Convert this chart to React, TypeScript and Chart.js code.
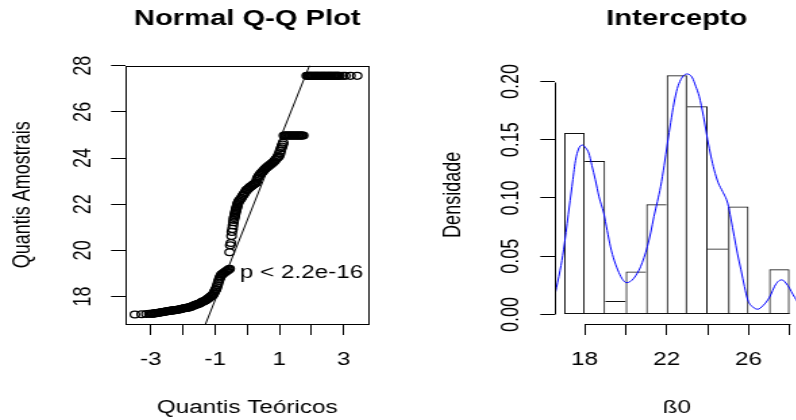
import React, { useEffect, useRef } from "react";
import { Chart, registerables } from "chart.js";

Chart.register(...registerables);

// ---------- page geometry (styles, not data) ----------
const S = 1.35; // the reference is stretched horizontally
const W = 318;
const H = 420;
const AREA = { left: 93.3, right: 273.3, top: 65.7, bottom: 324 };
const FONT = '"Liberation Sans", Arial, sans-serif';

// ---------- left panel: Normal Q-Q plot ----------
const qqTitle = "Normal Q-Q Plot";
const qqXLabel = "Quantis Teóricos";
const qqYLabel = "Quantis Amostrais";
const qqXRange = [-3.78, 3.78];
const qqYRange = [16.81, 28.0];
const qqXTicks = [-3, -2, -1, 0, 1, 2, 3];
const qqXTickLabels = ["-3", "", "-1", "", "1", "", "3"];
const qqYTicks = [18, 20, 22, 24, 26, 28];
const qqYTickLabels = ["18", "20", "22", "24", "26", "28"];

const qqTheoretical = [
  -3.5, -3.29, -3.14, -3.05, -3.0,
  -2.96, -2.93, -2.9, -2.87, -2.84, -2.81, -2.78, -2.75, -2.72, -2.69, -2.66, -2.63, -2.6, -2.57,
  -2.54, -2.51, -2.48, -2.45, -2.42, -2.39, -2.36, -2.33, -2.3, -2.27, -2.24, -2.21, -2.18, -2.15,
  -2.12, -2.09, -2.06, -2.03, -2.0, -1.97, -1.94, -1.91, -1.88, -1.85, -1.82, -1.79, -1.76, -1.73,
  -1.7, -1.67, -1.64, -1.61, -1.58, -1.55, -1.52, -1.49, -1.46, -1.43, -1.4, -1.37, -1.34, -1.31,
  -1.28, -1.25, -1.22, -1.19, -1.16, -1.13, -1.1, -1.07, -1.05, -1.03, -1.01, -0.99, -0.97, -0.95,
  -0.93, -0.91, -0.89, -0.87, -0.85, -0.83, -0.81, -0.78, -0.75, -0.72, -0.69, -0.66, -0.63, -0.6,
  -0.57, -0.55,
  -0.55, -0.53, -0.51, -0.49, -0.48, -0.46, -0.445, -0.43, -0.42, -0.41,
  -0.4, -0.39, -0.38, -0.37, -0.36, -0.35, -0.34, -0.33, -0.32, -0.31, -0.3, -0.29,
  -0.27, -0.24, -0.21, -0.18, -0.15, -0.12, -0.09, -0.06, -0.03, 0.0, 0.03, 0.06, 0.09, 0.12, 0.15,
  0.18, 0.21, 0.24, 0.27, 0.29, 0.31, 0.33, 0.36, 0.39, 0.42, 0.45, 0.48, 0.51, 0.54, 0.57, 0.6,
  0.63, 0.66, 0.69, 0.72, 0.75, 0.78, 0.81, 0.84, 0.87, 0.9, 0.93, 0.96, 0.99, 1.02, 1.04, 1.06,
  1.08, 1.1, 1.12,
  1.14, 1.17, 1.2, 1.23, 1.26, 1.29, 1.32, 1.35, 1.38, 1.41, 1.44, 1.47, 1.5, 1.53, 1.56, 1.59,
  1.62, 1.65, 1.68, 1.71, 1.74,
  1.85, 1.88, 1.91, 1.94, 1.97, 2.0, 2.03, 2.06, 2.09, 2.12, 2.15, 2.18, 2.21, 2.24, 2.27, 2.3,
  2.33, 2.36, 2.39, 2.42, 2.45, 2.48, 2.51, 2.54, 2.57, 2.6, 2.63, 2.66, 2.69, 2.72, 2.75, 2.78,
  2.81, 2.84, 2.87, 2.97, 3.05, 3.21, 3.42,
];
const qqSample = [
  17.22, 17.23, 17.245, 17.25, 17.25,
  17.255, 17.26, 17.27, 17.28, 17.28, 17.29, 17.3, 17.3, 17.31, 17.32, 17.32, 17.33, 17.34, 17.34,
  17.35, 17.36, 17.36, 17.37, 17.38, 17.38, 17.39, 17.4, 17.4, 17.41, 17.42, 17.42, 17.43, 17.44,
  17.44, 17.45, 17.46, 17.47, 17.48, 17.49, 17.5, 17.5, 17.51, 17.52, 17.53, 17.54, 17.56, 17.57,
  17.59, 17.61, 17.62, 17.64, 17.65, 17.67, 17.69, 17.7, 17.72, 17.75, 17.77, 17.79, 17.81, 17.83,
  17.85, 17.88, 17.91, 17.94, 17.98, 18.01, 18.04, 18.07, 18.12, 18.17, 18.23, 18.28, 18.33, 18.4,
  18.49, 18.58, 18.67, 18.75, 18.82, 18.88, 18.94, 18.97, 19.0, 19.03, 19.06, 19.09, 19.12, 19.15,
  19.18, 19.2,
  19.92, 20.22, 20.32, 20.62, 20.8, 20.93, 21.08, 21.22, 21.32, 21.4,
  21.46, 21.52, 21.58, 21.64, 21.7, 21.75, 21.8, 21.85, 21.9, 21.95, 22.0, 22.05,
  22.12, 22.17, 22.22, 22.28, 22.35, 22.41, 22.47, 22.53, 22.6, 22.64, 22.67, 22.71, 22.75, 22.78,
  22.81, 22.84, 22.87, 22.9, 22.93, 23.0, 23.1, 23.16, 23.22, 23.28, 23.33, 23.37, 23.42, 23.46,
  23.51, 23.55, 23.59, 23.62, 23.65, 23.69, 23.72, 23.75, 23.78, 23.82, 23.86, 23.91, 23.96, 24.01,
  24.05, 24.09, 24.2, 24.32, 24.42, 24.5, 24.58, 24.66,
  24.98, 24.98, 24.98, 24.98, 24.98, 24.98, 24.98, 24.98, 24.98, 24.98, 24.98, 24.98, 24.98, 24.98,
  24.98, 24.98, 24.98, 24.98, 24.98, 24.98, 24.98,
  27.56, 27.56, 27.56, 27.56, 27.56, 27.56, 27.56, 27.56, 27.56, 27.56, 27.56, 27.56, 27.56, 27.56,
  27.56, 27.56, 27.56, 27.56, 27.56, 27.56, 27.56, 27.56, 27.56, 27.56, 27.56, 27.56, 27.56, 27.56,
  27.56, 27.56, 27.56, 27.56, 27.56, 27.56, 27.56, 27.56, 27.56, 27.56, 27.56,
];
const qqLineIntercept = 21.31;
const qqLineSlope = 3.46;
const pValueText = "p < 2.2e-16";
const pValueAnchorX = -0.55;
const pValueAnchorY = 19.0;

// ---------- right panel: histogram + density ----------
const histTitle = "Intercepto";
const histXLabel = "ß0";
const histYLabel = "Densidade";
const histXRange = [16.56, 28.44];
const histYRange = [-0.0082, 0.2136];
const binLower = [17, 18, 19, 20, 21, 22, 23, 24, 25, 26, 27];
const binUpper = [18, 19, 20, 21, 22, 23, 24, 25, 26, 27, 28];
const binDensity = [0.1558, 0.1317, 0.0116, 0.0368, 0.0947, 0.2053, 0.1787, 0.0566, 0.0927, 0, 0.0389];
const densityX = [
  16.56, 16.8, 16.97, 17.2, 17.38, 17.55, 17.7, 17.87, 18.05, 18.2, 18.35, 18.52, 18.7, 18.93,
  19.1, 19.26, 19.45, 19.67, 19.85, 20.04, 20.22, 20.4, 20.57, 20.73, 20.9, 21.06, 21.22, 21.38,
  21.55, 21.71, 21.88, 22.04, 22.2, 22.36, 22.52, 22.69, 22.85, 23.0, 23.13, 23.26, 23.42, 23.59,
  23.8, 24.0, 24.16, 24.32, 24.52, 24.73, 24.98, 25.14, 25.3, 25.46, 25.63, 25.8, 25.96, 26.2,
  26.45, 26.7, 26.94, 27.1, 27.26, 27.45, 27.63, 27.82, 28.0, 28.17, 28.33, 28.44,
];
const densityY = [
  0.018, 0.038, 0.0555, 0.086, 0.11, 0.132, 0.142, 0.1455, 0.143, 0.1386, 0.128, 0.1157, 0.101,
  0.087, 0.072, 0.058, 0.046, 0.036, 0.03, 0.0273, 0.0282, 0.0311, 0.0355, 0.041, 0.049, 0.0583,
  0.07, 0.0841, 0.097, 0.11, 0.128, 0.147, 0.165, 0.1816, 0.194, 0.2016, 0.2055, 0.2065, 0.2058,
  0.2031, 0.196, 0.1873, 0.17, 0.15, 0.136, 0.1242, 0.113, 0.1056, 0.0956, 0.082, 0.0669, 0.052,
  0.0383, 0.024, 0.0125, 0.0065, 0.0045, 0.0075, 0.0125, 0.0175, 0.0239, 0.0285, 0.0297, 0.027,
  0.0225, 0.017, 0.0125, 0.0095,
];
const histXTicks = [18, 20, 22, 24, 26, 28];
const histXTickLabels = ["18", "", "22", "", "26", ""];
const histYTicks = [0, 0.05, 0.1, 0.15, 0.2];
const histYTickLabels = ["0.00", "0.05", "0.10", "0.15", "0.20"];

// ---------- helpers ----------
function gridOpts() {
  return {
    display: true,
    offset: false,
    drawOnChartArea: false,
    drawTicks: true,
    tickLength: 11,
    tickWidth: 1,
    tickColor: "#000",
    color: "#000",
    lineWidth: 1,
  };
}

function xScale(range: number[], ticks: number[], labels: string[], title: string) {
  return {
    type: "linear",
    position: "bottom",
    min: range[0],
    max: range[1],
    offset: false,
    afterBuildTicks: (s: any) => {
      s.ticks = ticks.map((v) => ({ value: v }));
    },
    afterFit: (s: any) => {
      s.height = H - AREA.bottom;
    },
    ticks: {
      autoSkip: false,
      minRotation: 0,
      maxRotation: 0,
      padding: 14.7,
      color: "#000",
      font: { size: 18, family: FONT },
      callback: (v: number) => labels[ticks.indexOf(v)] ?? "",
    },
    grid: gridOpts(),
    border: { display: false },
    title: {
      display: true,
      text: title,
      color: "#000",
      font: { size: 18, family: FONT },
      padding: { top: 0, bottom: 1.4 },
    },
  };
}

function yScale(range: number[], ticks: number[], labels: string[], title: string, pad: number, titlePad: number) {
  return {
    type: "linear",
    position: "left",
    min: range[0],
    max: range[1],
    beginAtZero: false,
    afterBuildTicks: (s: any) => {
      s.ticks = ticks.map((v) => ({ value: v }));
    },
    afterFit: (s: any) => {
      s.width = AREA.left;
    },
    ticks: {
      autoSkip: false,
      minRotation: 90,
      maxRotation: 90,
      crossAlign: "center",
      padding: pad,
      color: "#000",
      font: { size: 18, family: FONT },
      callback: (v: number) => labels[ticks.indexOf(v)] ?? "",
    },
    grid: gridOpts(),
    border: { display: false },
    title: {
      display: true,
      text: title,
      color: "#000",
      font: { size: 18, family: FONT },
      padding: { top: titlePad, bottom: 0 },
    },
  };
}

function titleOpts(text: string) {
  return {
    display: true,
    text,
    fullSize: false,
    color: "#000",
    font: { size: 21.6, weight: "bold", family: FONT },
    padding: { top: 6.2, bottom: AREA.top - 21.6 * 1.2 - 6.2 },
  };
}

const baseOptions = {
  responsive: false,
  animation: false,
  events: [],
  devicePixelRatio: 1,
  layout: { padding: { left: 0, top: 0, right: W - AREA.right, bottom: 0 } },
};

const qqPlugin = {
  id: "qqExtras",
  afterDraw(chart: any) {
    const { ctx, chartArea: a, scales } = chart;
    ctx.save();
    ctx.strokeStyle = "#000";
    ctx.lineWidth = 1;
    const l = Math.round(a.left) + 0.5;
    const t = Math.round(a.top) + 0.5;
    const r = Math.round(a.right) + 0.5;
    const b = Math.round(a.bottom) + 0.5;
    ctx.strokeRect(l, t, r - l, b - t);
    ctx.fillStyle = "#000";
    ctx.font = `18px ${FONT}`;
    ctx.textAlign = "left";
    ctx.textBaseline = "middle";
    ctx.fillText(
      pValueText,
      scales.x.getPixelForValue(pValueAnchorX) + 7.6,
      scales.y.getPixelForValue(pValueAnchorY)
    );
    ctx.restore();
  },
};

const histPlugin = {
  id: "histAxes",
  afterDraw(chart: any) {
    const { ctx, chartArea: a, scales } = chart;
    const x = scales.x;
    const y = scales.y;
    ctx.save();
    ctx.strokeStyle = "#000";
    ctx.lineWidth = 1;
    const yb = Math.round(a.bottom) + 0.5;
    ctx.beginPath();
    ctx.moveTo(Math.round(x.getPixelForValue(histXTicks[0])) + 0.5, yb);
    ctx.lineTo(Math.round(x.getPixelForValue(histXTicks[histXTicks.length - 1])) + 0.5, yb);
    ctx.stroke();
    const xl = Math.round(a.left) + 0.5;
    ctx.beginPath();
    ctx.moveTo(xl, Math.round(y.getPixelForValue(histYTicks[0])) + 0.5);
    ctx.lineTo(xl, Math.round(y.getPixelForValue(histYTicks[histYTicks.length - 1])) + 0.5);
    ctx.stroke();
    ctx.strokeStyle = "#111";
    const y0 = Math.round(y.getPixelForValue(0)) - 0.5;
    ctx.beginPath();
    ctx.moveTo(x.getPixelForValue(binLower[0]), y0);
    ctx.lineTo(x.getPixelForValue(binUpper[binUpper.length - 1]), y0);
    ctx.stroke();
    ctx.restore();
  },
};

export default function App() {
  const leftRef = useRef<HTMLCanvasElement>(null);
  const rightRef = useRef<HTMLCanvasElement>(null);

  useEffect(() => {
    Chart.defaults.font.family = FONT;
    Chart.defaults.color = "#000";

    const qqPoints = qqTheoretical.map((t, i) => ({ x: t, y: qqSample[i] }));
    const qqLine = qqXRange.map((t) => ({ x: t, y: qqLineIntercept + qqLineSlope * t }));

    const left = new Chart(leftRef.current as HTMLCanvasElement, {
      type: "scatter",
      data: {
        datasets: [
          {
            label: "amostra",
            data: qqPoints,
            order: 1,
            showLine: false,
            pointStyle: "circle",
            pointRadius: 3.4,
            pointBorderWidth: 1.25,
            pointBackgroundColor: "rgba(0,0,0,0)",
            pointBorderColor: "#000",
          },
          {
            label: "qqline",
            data: qqLine,
            order: 0,
            showLine: true,
            pointRadius: 0,
            borderColor: "#000",
            borderWidth: 1,
            clip: 0,
          },
        ],
      },
      options: {
        ...baseOptions,
        scales: {
          x: xScale(qqXRange, qqXTicks, qqXTickLabels, qqXLabel),
          y: yScale(qqYRange, qqYTicks, qqYTickLabels, qqYLabel, 10.3, 6.2),
        },
        plugins: {
          title: titleOpts(qqTitle),
          legend: { display: false },
          tooltip: { enabled: false },
        },
      } as any,
      plugins: [qqPlugin],
    });

    const bars = binLower.map((lo, i) => ({ x: (lo + binUpper[i]) / 2, y: binDensity[i] }));
    const curve = densityX.map((v, i) => ({ x: v, y: densityY[i] }));

    const right = new Chart(rightRef.current as HTMLCanvasElement, {
      type: "bar",
      data: {
        datasets: [
          {
            type: "bar",
            label: "histograma",
            data: bars,
            order: 1,
            backgroundColor: "rgba(0,0,0,0)",
            borderColor: "#111",
            borderWidth: (c: any) => {
              const i = c.dataIndex;
              const h = binDensity;
              return {
                top: 1,
                bottom: 0,
                left: i === 0 || h[i] >= h[i - 1] ? 1 : 0,
                right: i === h.length - 1 || h[i] > h[i + 1] ? 1 : 0,
              };
            },
            borderSkipped: false,
            barPercentage: 1,
            categoryPercentage: 1,
            inflateAmount: 0,
          },
          {
            type: "line",
            label: "densidade",
            data: curve,
            order: 0,
            borderColor: "#0000FF",
            borderWidth: 1,
            pointRadius: 0,
            cubicInterpolationMode: "monotone",
            fill: false,
            clip: 0,
          },
        ],
      },
      options: {
        ...baseOptions,
        scales: {
          x: xScale(histXRange, histXTicks, histXTickLabels, histXLabel),
          y: yScale(histYRange, histYTicks, histYTickLabels, histYLabel, 4.2, 7.1),
        },
        plugins: {
          title: titleOpts(histTitle),
          legend: { display: false },
          tooltip: { enabled: false },
        },
      } as any,
      plugins: [histPlugin],
    });

    return () => {
      left.destroy();
      right.destroy();
    };
  }, []);

  return (
    <div
      style={{
        position: "fixed",
        left: 0,
        top: 0,
        width: 796,
        height: 420,
        overflow: "hidden",
        background: "#fff",
      }}
    >
      <canvas
        ref={leftRef}
        width={W}
        height={H}
        style={{ position: "absolute", left: 0, top: 0, width: `${W * S}px`, height: `${H}px` }}
      />
      <canvas
        ref={rightRef}
        width={W}
        height={H}
        style={{ position: "absolute", left: `${W * S}px`, top: 0, width: `${W * S}px`, height: `${H}px` }}
      />
    </div>
  );
}
